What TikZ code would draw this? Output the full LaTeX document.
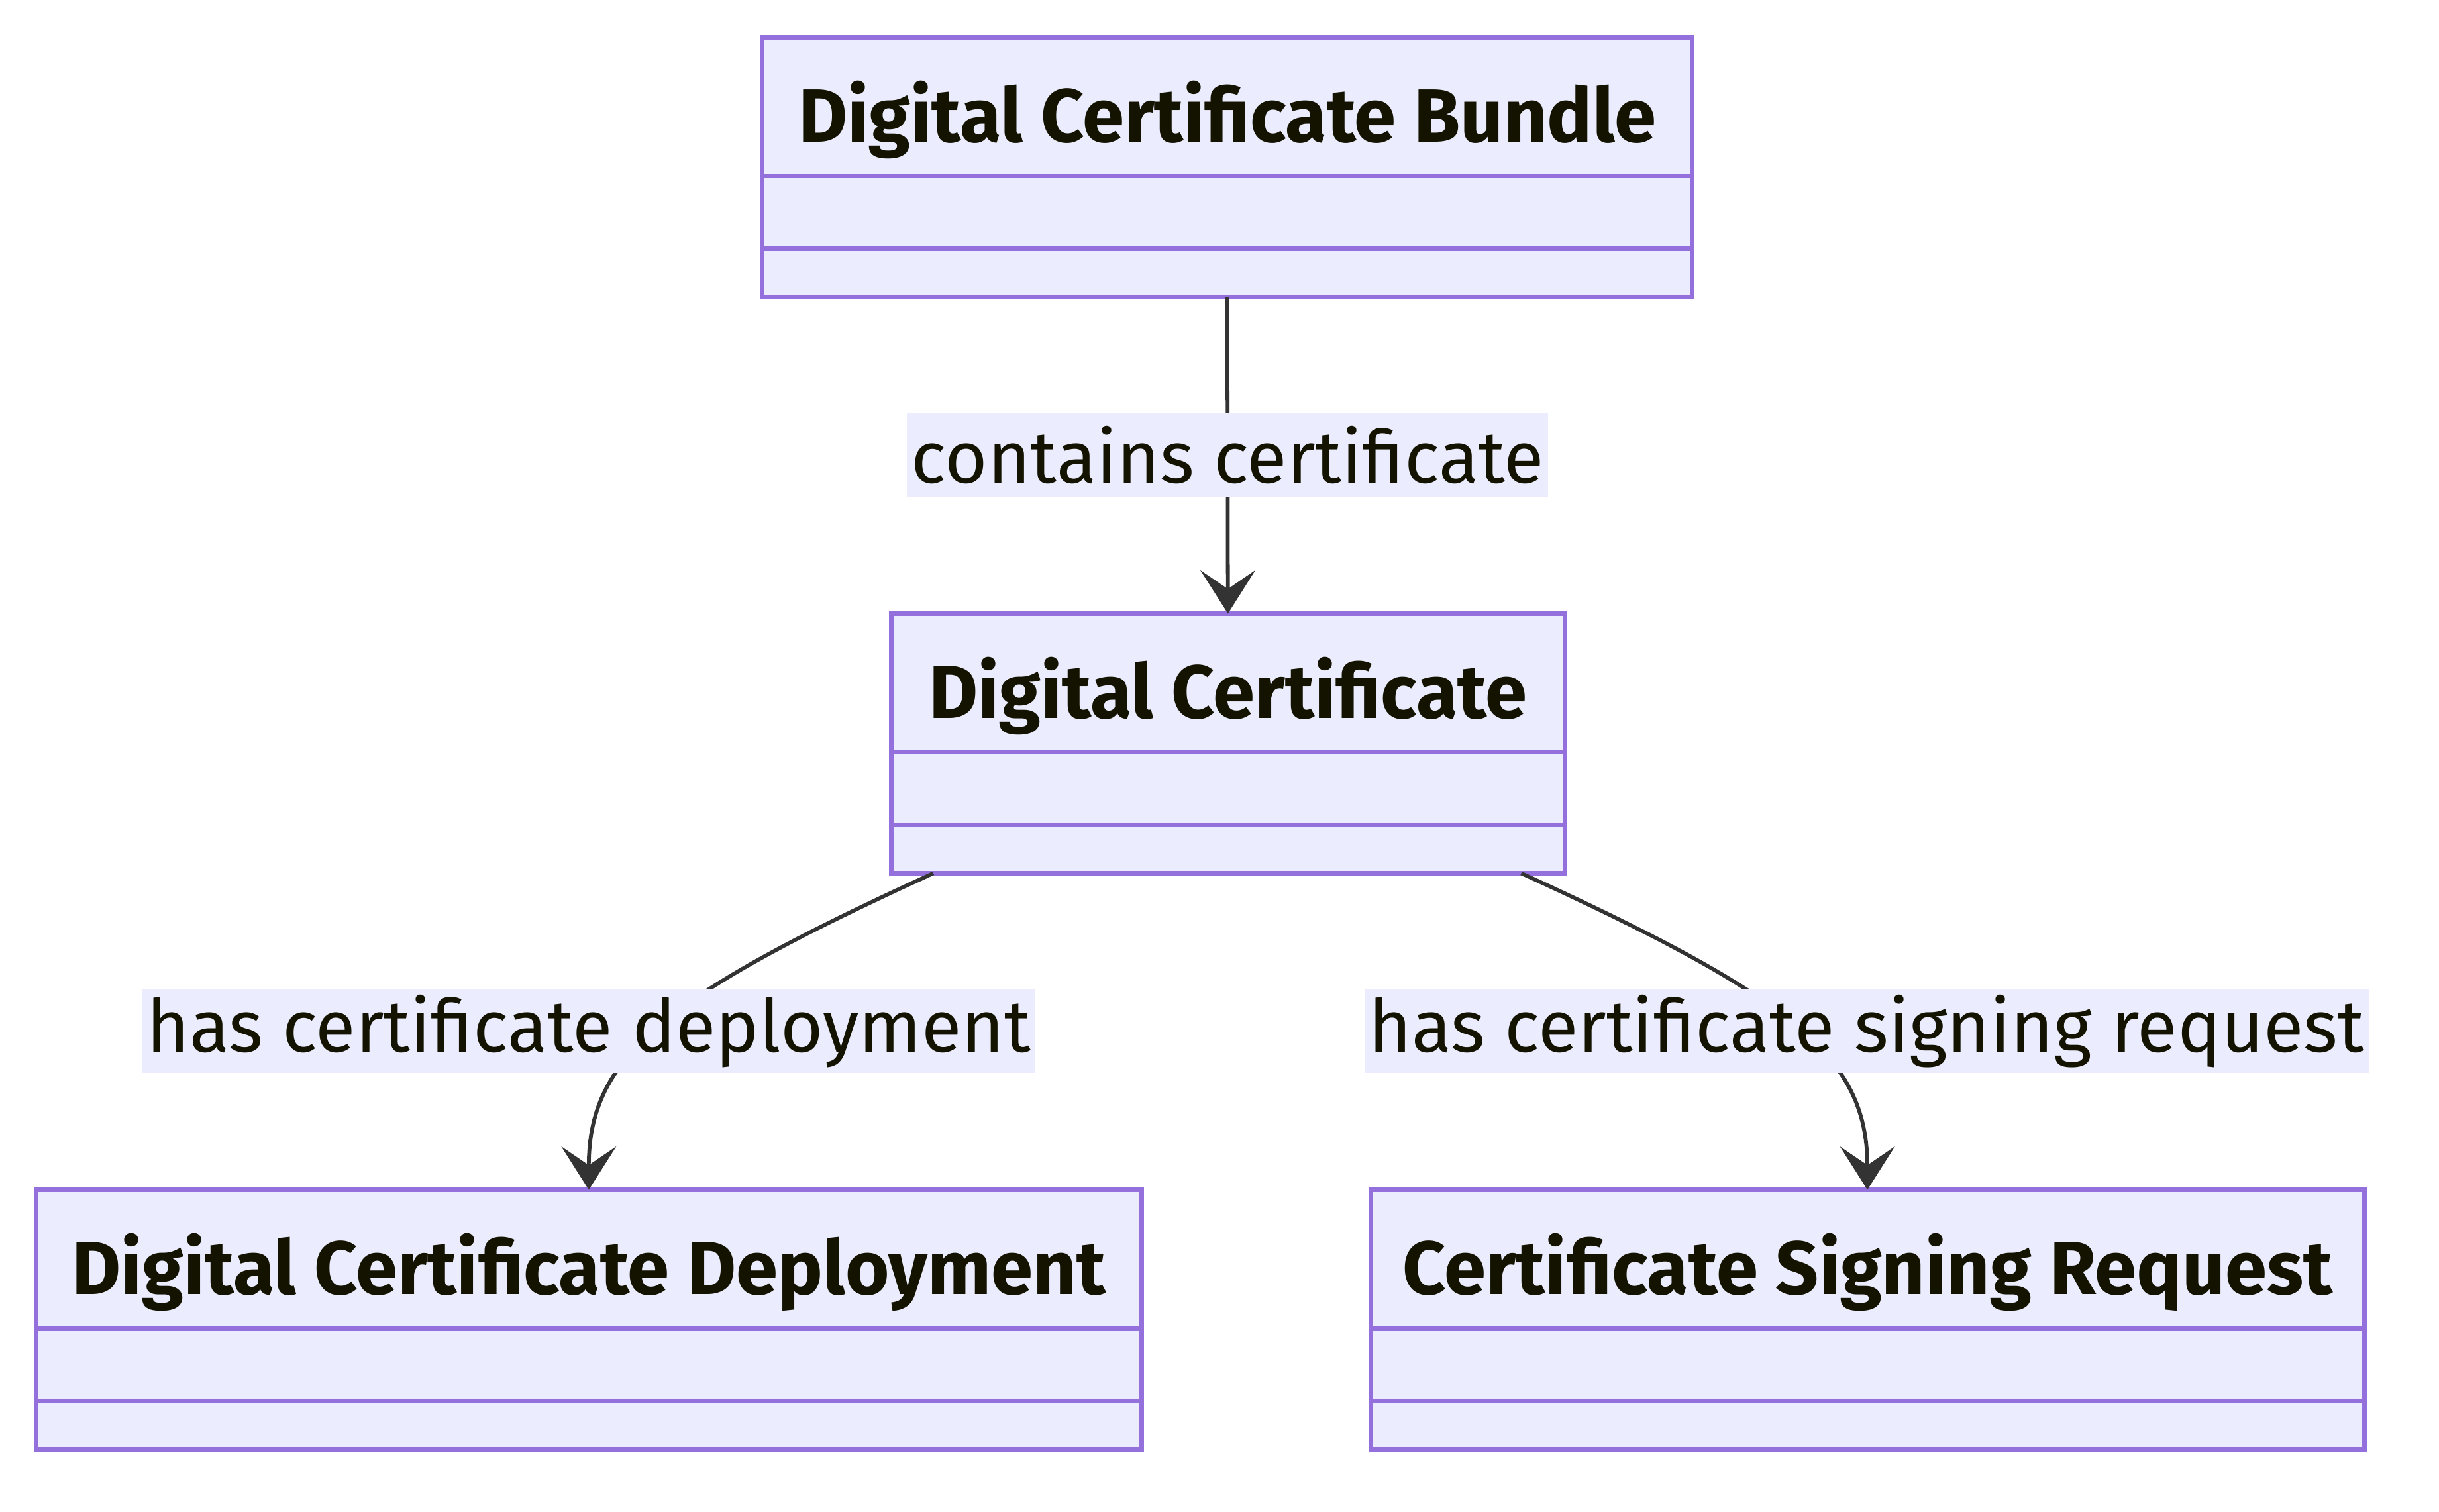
\documentclass[tikz,border=0pt]{standalone}
\usepackage{fontspec}
\setmainfont{Fira Sans}
\definecolor{classfill}{HTML}{ECECFF}
\definecolor{classline}{HTML}{9370DB}
\definecolor{edgegray}{HTML}{333333}
\definecolor{textdark}{HTML}{131300}
\usepackage{tikz}
\usetikzlibrary{arrows.meta, positioning}

\begin{document}
\begin{tikzpicture}[
    classtitle/.style={draw=classline, line width=0.8pt, fill=classfill, text=textdark,
      font=\fontsize{13.8}{16}\selectfont\bfseries, minimum height=0.89cm, inner sep=0pt, outer sep=0pt,
      text height=0.53cm, text depth=0.07cm},
    attrpart/.style={draw=classline, line width=0.8pt, fill=classfill, minimum height=0.47cm, inner sep=0pt, outer sep=0pt},
    methpart/.style={draw=classline, line width=0.8pt, fill=classfill, minimum height=0.31cm, inner sep=0pt, outer sep=0pt},
    edgelabel/.style={fill=classfill, text=textdark, font=\fontsize{13.4}{16}\selectfont,
      minimum height=0.54cm, inner xsep=0.8pt, inner ysep=0pt},
    assoc/.style={draw=edgegray, line width=0.7pt,
      -{Stealth[length=7.9pt, width=10pt, inset=3.4pt]}}
  ]
  % Canvas
  \useasboundingbox (0,0) rectangle (15.68,-9.72);

  % Classes
  \node[classtitle, minimum width=5.98cm] (bundle) at (7.89,-0.685) {Digital Certificate Bundle};
  \node[attrpart, minimum width=5.98cm, below=0pt of bundle] (bundle-attr) {};
  \node[methpart, minimum width=5.98cm, below=0pt of bundle-attr] (bundle-meth) {};

  \node[classtitle, minimum width=4.33cm] (cert) at (7.895,-4.39) {Digital Certificate};
  \node[attrpart, minimum width=4.33cm, below=0pt of cert] (cert-attr) {};
  \node[methpart, minimum width=4.33cm, below=0pt of cert-attr] (cert-meth) {};

  \node[classtitle, minimum width=7.11cm] (dep) at (3.785,-8.095) {Digital Certificate Deployment};
  \node[attrpart, minimum width=7.11cm, below=0pt of dep] (dep-attr) {};
  \node[methpart, minimum width=7.11cm, below=0pt of dep-attr] (dep-meth) {};

  \node[classtitle, minimum width=6.39cm] (csr) at (12.005,-8.095) {Certificate Signing Request};
  \node[attrpart, minimum width=6.39cm, below=0pt of csr] (csr-attr) {};
  \node[methpart, minimum width=6.39cm, below=0pt of csr-attr] (csr-meth) {};

  % Associations
  \draw[assoc] (bundle-meth) -- node[edgelabel] (contains) {contains certificate} (cert);
  \draw[assoc] ([xshift=-1.895cm]cert-meth.south) .. controls +(-1.75,-0.80) and +(0,0.85) .. (dep.north);
  \draw[assoc] ([xshift=1.885cm]cert-meth.south) .. controls +(1.75,-0.80) and +(0,0.85) .. (csr.north);

  \node[edgelabel] (deploys) at (3.785,-6.63) {has certificate deployment};
  \node[edgelabel] (signs) at (12.00,-6.63) {has certificate signing request};
\end{tikzpicture}
\end{document}
